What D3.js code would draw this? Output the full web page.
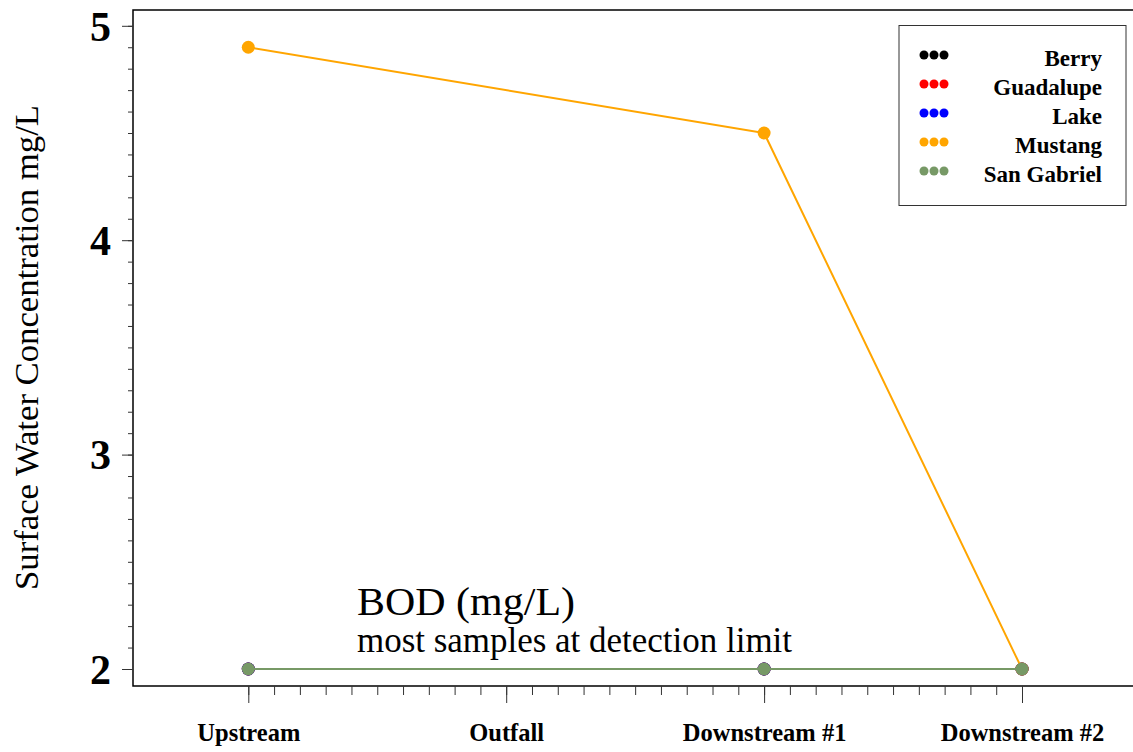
<!DOCTYPE html>
<meta charset="utf-8">
<style>
body { margin: 0; background: #fff; }
text { font-family: 'Liberation Serif', 'Times New Roman', serif; fill: #000; }
.axis path { display: none; }
.axis line { stroke: #333; stroke-width: 1px; }
</style>
<body>
<svg width="1133" height="752"></svg>
<script src="https://d3js.org/d3.v7.min.js"></script>
<script>

// sampling sites along the stream
var sites = ["Upstream", "Outfall", "Downstream #1", "Downstream #2"];

// BOD per plant, null where nothing was sampled
var berry      = [2, null, 2, 2];
var guadalupe  = [2, null, 2, 2];
var lake       = [2, null, 2, 2];
var mustang    = [4.9, null, 4.5, 2];
var sanGabriel = [2, null, 2, 2];

var names  = ["Berry", "Guadalupe", "Lake", "Mustang", "San Gabriel"];
var colors = ["#000000", "#ff0000", "#0000ff", "#ffa500", "#779966"];
var yTicks = [2, 3, 4, 5];

var series = [berry, guadalupe, lake, mustang, sanGabriel].map(function(v, i) {
  return {
    name: names[i],
    color: colors[i],
    values: v.map(function(d, j) { return {x: j, y: d}; })
             .filter(function(d) { return d.y != null; })
  };
});

var svg = d3.select("svg");

var plotLeft = 133, plotTop = 10, plotBottom = 686;

var x = d3.scaleLinear().domain([0, 3]).range([248.3, 1022]);
var y = d3.scaleLinear().domain([2, 5]).range([669, 25.8]);

// frame (right side runs off the page)
svg.append("path")
    .attr("d", "M1140," + plotTop + "H" + plotLeft + "V" + plotBottom + "H1140")
    .attr("fill", "none")
    .attr("stroke", "#000")
    .attr("stroke-width", 1.5);

// y axis, minor then major
svg.append("g")
    .attr("class", "axis")
    .attr("transform", "translate(" + plotLeft + ",0)")
    .call(d3.axisLeft(y).tickValues(d3.range(20, 51).map(function(d) { return d / 10; }))
      .tickSize(5).tickFormat(""));

var gy = svg.append("g")
    .attr("class", "axis")
    .attr("transform", "translate(" + plotLeft + ",0)")
    .call(d3.axisLeft(y).tickValues(yTicks).tickSize(11).tickPadding(11).tickFormat(d3.format("d")));

gy.selectAll("text")
    .attr("font-family", "'Liberation Serif', serif")
    .attr("font-size", 42)
    .attr("font-weight", "bold")
    .attr("dy", "0.34em");

// x axis, minor then major
svg.append("g")
    .attr("class", "axis")
    .attr("transform", "translate(0," + plotBottom + ")")
    .call(d3.axisBottom(x).tickValues(d3.range(0, 31).map(function(d) { return d / 10; }))
      .tickSize(9).tickFormat(""));

var gx = svg.append("g")
    .attr("class", "axis")
    .attr("transform", "translate(0," + plotBottom + ")")
    .call(d3.axisBottom(x).tickValues([0, 1, 2, 3]).tickSize(17).tickPadding(21)
      .tickFormat(function(d) { return sites[d]; }));

gx.selectAll("text")
    .attr("font-family", "'Liberation Serif', serif")
    .attr("font-size", 24.5)
    .attr("font-weight", "bold");

// y title
svg.append("text")
    .attr("transform", "translate(38,347.5) rotate(-90)")
    .attr("text-anchor", "middle")
    .attr("font-size", 34)
    .attr("textLength", 485)
    .attr("lengthAdjust", "spacingAndGlyphs")
    .text("Surface Water Concentration mg/L");

// lines and points
var line = d3.line()
    .x(function(d) { return x(d.x); })
    .y(function(d) { return y(d.y); });

var sg = svg.selectAll(".series")
  .data(series)
  .enter().append("g")
    .attr("class", "series");

sg.append("path")
    .attr("d", function(d) { return line(d.values); })
    .attr("fill", "none")
    .attr("stroke", function(d) { return d.color; })
    .attr("stroke-width", 2);

sg.selectAll("circle")
  .data(function(d) { return d.values.map(function(v) { return {x: v.x, y: v.y, color: d.color}; }); })
  .enter().append("circle")
    .attr("cx", function(d) { return x(d.x); })
    .attr("cy", function(d) { return y(d.y); })
    .attr("r", 6.5)
    .attr("fill", function(d) { return d.color; });

// annotation
svg.append("text")
    .attr("x", 357)
    .attr("y", 615)
    .attr("font-size", 41)
    .attr("textLength", 218)
    .attr("lengthAdjust", "spacingAndGlyphs")
    .text("BOD (mg/L)");

svg.append("text")
    .attr("x", 357)
    .attr("y", 652)
    .attr("font-size", 35)
    .attr("textLength", 435)
    .attr("lengthAdjust", "spacingAndGlyphs")
    .text("most samples at detection limit");

// legend
var legend = svg.append("g")
    .attr("transform", "translate(899,25.5)");

legend.append("rect")
    .attr("width", 227)
    .attr("height", 180)
    .attr("fill", "#fff")
    .attr("stroke", "#333")
    .attr("stroke-width", 1);

var ly = d3.scaleLinear().domain([0, 4]).range([29.5, 145.5]);

var item = legend.selectAll(".item")
  .data(series)
  .enter().append("g")
    .attr("transform", function(d, i) { return "translate(0," + ly(i) + ")"; });

item.selectAll("circle")
  .data(function(d) { return [25, 35, 45].map(function(cx) { return {cx: cx, color: d.color}; }); })
  .enter().append("circle")
    .attr("cx", function(d) { return d.cx; })
    .attr("cy", 0)
    .attr("r", 4.5)
    .attr("fill", function(d) { return d.color; });

item.append("text")
    .attr("x", 203)
    .attr("y", 11)
    .attr("text-anchor", "end")
    .attr("font-size", 23)
    .attr("font-weight", "bold")
    .text(function(d) { return d.name; });

</script>
